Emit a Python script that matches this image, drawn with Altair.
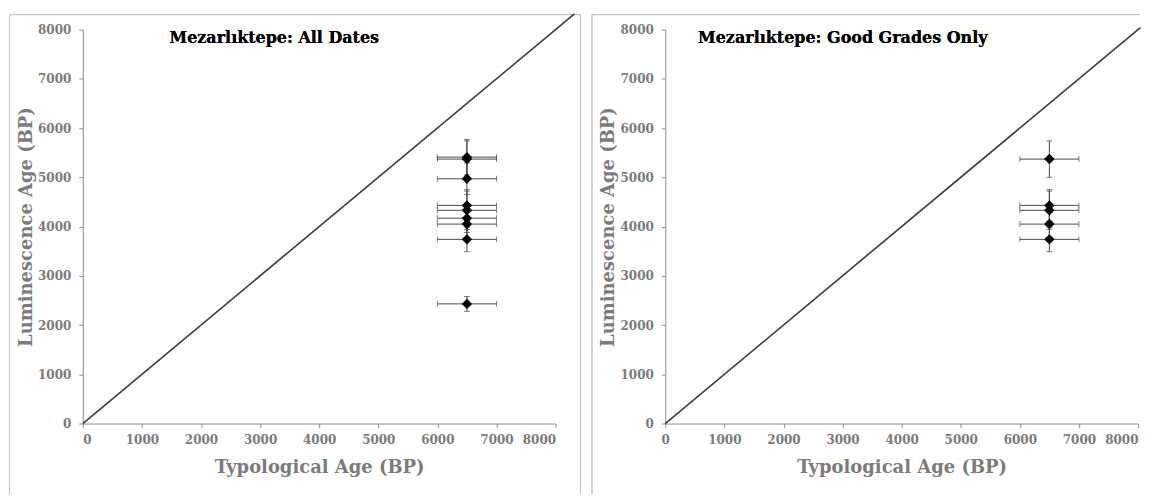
import altair as alt
import pandas as pd

# ---- data ----
typ_all = [6500, 6500, 6500, 6500, 6500, 6500, 6500, 6500, 6500]
typ_err_all = [500, 500, 500, 500, 500, 500, 500, 500, 500]
lum_all = [5410, 5370, 4970, 4430, 4330, 4170, 4050, 3740, 2430]
lum_err_all = [360, 370, 320, 320, 390, 290, 280, 250, 150]

typ_good = [6500, 6500, 6500, 6500, 6500]
typ_err_good = [500, 500, 500, 500, 500]
lum_good = [5370, 4430, 4330, 4050, 3740]
lum_err_good = [370, 320, 390, 280, 250]

diag_left = [0, 8320]
diag_right = [0, 8040]
tick_vals = [0, 1000, 2000, 3000, 4000, 5000, 6000, 7000, 8000]

titles = ["Mezarlıktepe: All Dates", "Mezarlıktepe: Good Grades Only"]

FONT = "DejaVu Serif"
GRAY = "#7b7b7b"
AXIS_GRAY = "#8f8f8f"
FRAME = "#c4c4c4"
W, H = 474, 395


def make_df(t, te, l, le):
    return pd.DataFrame({
        "x": t, "y": l,
        "xlo": [a - b for a, b in zip(t, te)],
        "xhi": [a + b for a, b in zip(t, te)],
        "ylo": [a - b for a, b in zip(l, le)],
        "yhi": [a + b for a, b in zip(l, le)],
    })


xscale = alt.Scale(domain=[0, 8000], nice=False, zero=False)
yscale = alt.Scale(domain=[0, 8000], nice=False, zero=False)
yaxis = alt.Axis(values=tick_vals, grid=False, tickSize=4, labelPadding=8,
                 titlePadding=2, format="d")


def make_xaxis(flush_last):
    kw = dict(values=tick_vals, grid=False, tickSize=4, labelPadding=7,
              titlePadding=13, format="d")
    if flush_last:
        kw["labelAlign"] = {"condition": {"test": "datum.value == 8000", "value": "right"},
                            "value": "center"}
    return alt.Axis(**kw)


def panel(df, title, title_x, frame_right, diag_vals, flush_last, show_right_edge):
    xaxis = make_xaxis(flush_last)

    def xenc(f):
        return alt.X(f"{f}:Q", scale=xscale, axis=xaxis, title="Typological Age (BP)")

    def yenc(f):
        return alt.Y(f"{f}:Q", scale=yscale, axis=yaxis, title="Luminescence Age (BP)")

    diag = pd.DataFrame({"x": diag_vals, "y": diag_vals})
    base = alt.Chart(df)
    fl = alt.Chart(diag).mark_rule(color=FRAME, strokeWidth=1)
    layers = [
        fl.encode(x=alt.value(-73.5), y=alt.value(-15), y2=alt.value(466)),
        fl.encode(x=alt.value(-73.5), x2=alt.value(frame_right), y=alt.value(-15)),
    ]
    if show_right_edge:
        layers.append(fl.encode(x=alt.value(frame_right), y=alt.value(-15), y2=alt.value(466)))
    line = alt.Chart(diag).mark_line(color="#3c3c3c", strokeWidth=1.6).encode(
        x=xenc("x"), y=yenc("y"))
    hbar = base.mark_errorbar(ticks=True, color="#4a4a4a", thickness=1, size=6).encode(
        x=xenc("xlo"), x2="xhi", y=yenc("y"))
    vbar = base.mark_errorbar(ticks=True, color="#4a4a4a", thickness=1, size=6).encode(
        y=yenc("ylo"), y2="yhi", x=xenc("x"))
    pts = base.mark_point(shape="diamond", filled=True, color="black",
                          size=110, opacity=1).encode(x=xenc("x"), y=yenc("y"))
    ttl = alt.Chart(diag).mark_text(
        text=title, font=FONT, fontWeight="bold", fontSize=16, color="black",
        align="center", baseline="middle"
    ).encode(x=alt.value(title_x), y=alt.value(8))
    layers += [line, hbar, vbar, pts, ttl]
    return alt.layer(*layers).properties(width=W, height=H)


left = panel(make_df(typ_all, typ_err_all, lum_all, lum_err_all), titles[0], 192, 499,
             diag_left, False, True)
right = panel(make_df(typ_good, typ_err_good, lum_good, lum_err_good), titles[1], 178, 476,
              diag_right, True, False)

chart = alt.hconcat(left, right, spacing=110, bounds="flush").properties(
    padding={"left": 1, "top": 1, "right": 0, "bottom": 0}
).configure_view(stroke=None).configure_axis(
    domainColor=AXIS_GRAY, tickColor=AXIS_GRAY, domainWidth=1,
    labelFont=FONT, labelFontWeight="bold", labelFontSize=12, labelColor=GRAY,
    titleFont=FONT, titleFontWeight="bold", titleFontSize=18, titleColor=GRAY,
)

chart.save("out.html", embed_options={"renderer": "svg", "actions": False})
